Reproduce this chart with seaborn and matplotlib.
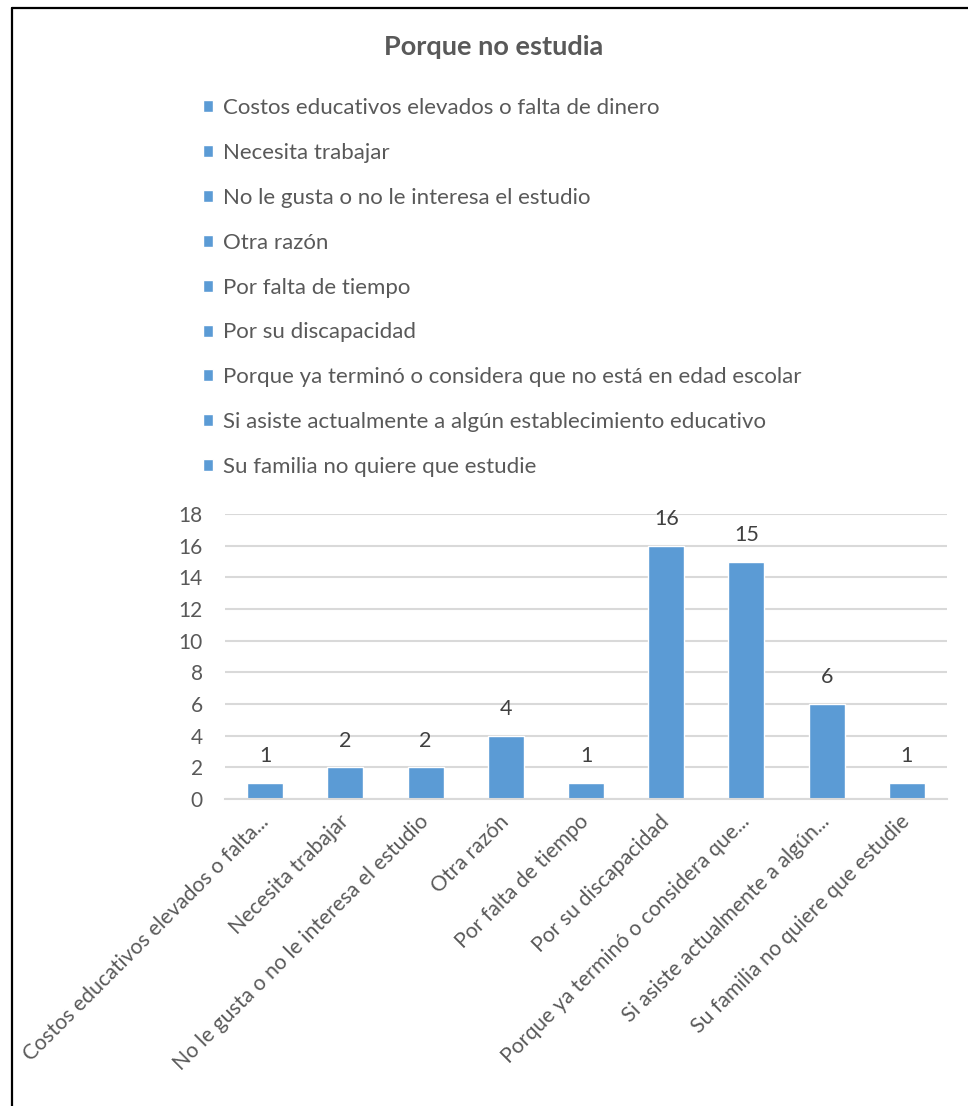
import matplotlib
matplotlib.use("Agg")
import matplotlib.pyplot as plt
import seaborn as sns
import pandas as pd
from matplotlib.lines import Line2D

categories = [
    "Costos educativos elevados o falta de dinero",
    "Necesita trabajar",
    "No le gusta o no le interesa el estudio",
    "Otra razón",
    "Por falta de tiempo",
    "Por su discapacidad",
    "Porque ya terminó o considera que no está en edad escolar",
    "Si asiste actualmente a algún establecimiento educativo",
    "Su familia no quiere que estudie",
]
tick_labels = [
    "Costos educativos elevados o falta...",
    "Necesita trabajar",
    "No le gusta o no le interesa el estudio",
    "Otra razón",
    "Por falta de tiempo",
    "Por su discapacidad",
    "Porque ya terminó o considera que...",
    "Si asiste actualmente a algún...",
    "Su familia no quiere que estudie",
]
values = [1, 2, 2, 4, 1, 16, 15, 6, 1]
y_ticks = [0, 2, 4, 6, 8, 10, 12, 14, 16, 18]
title = "Porque no estudia"

sns.set_theme(style="white")
plt.rcParams["font.family"] = ["Lato", "DejaVu Sans"]

BAR = "#5B9BD5"
TXT = "#595959"
GRID = "#D9D9D9"

df = pd.DataFrame({"cat": categories, "val": values})

W, H = 968, 1106
fig = plt.figure(figsize=(W / 100, H / 100), dpi=100)
ax = fig.add_axes([225 / W, 1 - 799 / H, (947 - 225) / W, (799 - 514) / H])

sns.barplot(data=df, x="cat", y="val", hue="cat", order=categories,
            hue_order=categories, palette=[BAR] * len(categories),
            width=0.45, saturation=1, ax=ax, legend=True)

ax.set_ylim(0, 18)
ax.set_xlim(-0.5, len(categories) - 0.5)
ax.set_yticks(y_ticks)
ax.set_yticklabels([str(t) for t in y_ticks], color=TXT, fontsize=15)
ax.yaxis.grid(True, color=GRID, linewidth=1.5)
ax.set_axisbelow(True)
ax.set_xlabel("")
ax.set_ylabel("")

for s in ["top", "right", "left"]:
    ax.spines[s].set_visible(False)
ax.spines["bottom"].set_color(GRID)
ax.spines["bottom"].set_linewidth(1.5)

ax.set_xticks(range(len(categories)))
ax.set_xticklabels(tick_labels, rotation=45, ha="right", va="center",
                   rotation_mode="anchor", color=TXT, fontsize=15.3)
ax.tick_params(axis="x", length=0, pad=14)
ax.tick_params(axis="y", length=0, pad=16)
ax.set_xticks([i - 0.5 for i in range(len(categories) + 1)], minor=True)
ax.tick_params(axis="x", which="minor", length=6, width=1.5, color=GRID)

for c in ax.containers:
    ax.bar_label(c, fmt="%d", padding=12, color="#404040", fontsize=15.5)

handles, labels = ax.get_legend_handles_labels()
ax.get_legend().remove()
fig.legend(handles, labels, loc="upper left",
           bbox_to_anchor=(203 / W, 1 - 98 / H), frameon=False,
           fontsize=16, labelcolor=TXT, handlelength=0.45,
           handleheight=0.45, handletextpad=0.45, labelspacing=1.12,
           borderaxespad=0, borderpad=0)

fig.text(494 / W, 1 - 47 / H, title, ha="center", va="center",
         fontsize=19.5, fontweight="bold", color=TXT)

fig.lines.append(Line2D([12 / W, 12 / W], [0, 1 - 8 / H],
                        transform=fig.transFigure, color="black", linewidth=1.6))
fig.lines.append(Line2D([12 / W, 1], [1 - 8 / H, 1 - 8 / H],
                        transform=fig.transFigure, color="black", linewidth=1.6))

fig.savefig("out.png", dpi=100)
